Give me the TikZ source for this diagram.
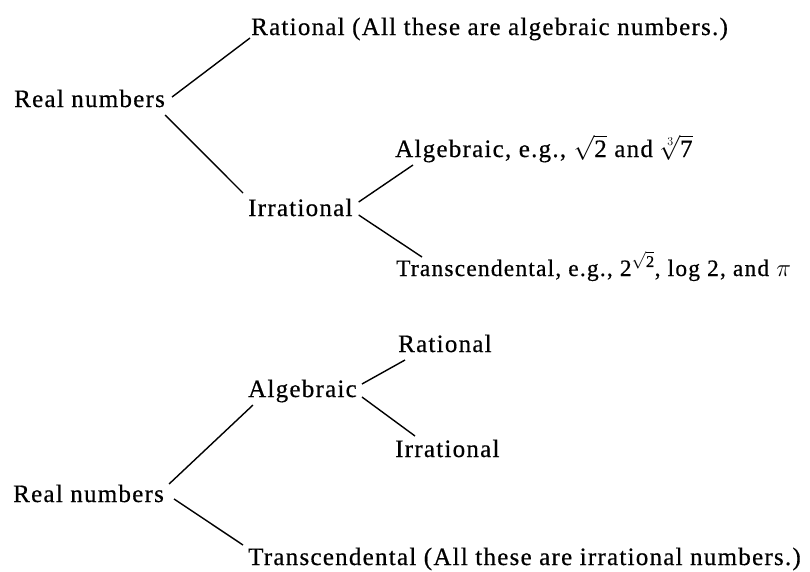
\documentclass[tikz,border=0pt]{standalone}
\usepackage{fontspec}
\setmainfont[LetterSpace=5, FakeBold=0.5]{Liberation Serif}
\begin{document}
\begin{tikzpicture}[x=1pt, y=-1pt, lbl/.style={anchor=base west, inner sep=3pt, font=\fontsize{25}{30}\selectfont}, br/.style={line width=1.4pt}]
    \useasboundingbox (0,0) rectangle (810,571);
    % first tree
    \node[lbl] (realA) at (11,107) {Real numbers};
    \node[lbl] (ratA) at (248,35) {Rational (All these are algebraic numbers.)};
    \node[lbl] (irrA) at (245,216) {Irrational};
    \node[lbl] (algA) at (392,157) {Algebraic, e.g., $\sqrt{\mathrm{2}}$ and $\sqrt[3]{\mathrm{7}}$};
    \node[lbl, font=\fontsize{23.5}{30}\selectfont] (traA) at (393,276) {Transcendental, e.g., $\mathrm{2}^{\sqrt{\mathrm{2}}}$, log 2, and $\pi$};
    \draw[br] ([shift={(4pt,10pt)}]realA.base east) -- ([shift={(2pt,-3pt)}]ratA.base west);
    \draw[br] ([shift={(-3pt,-8pt)}]realA.base east) -- ([shift={(-2pt,23pt)}]irrA.base west);
    \draw[br] ([shift={(3pt,14pt)}]irrA.base east) -- ([shift={(21pt,-8pt)}]algA.base west);
    \draw[br] ([shift={(3pt,1pt)}]irrA.base east) -- ([shift={(29pt,19pt)}]traA.base west);
    % second tree
    \node[lbl] (realB) at (10,502) {Real numbers};
    \node[lbl] (algB) at (245,397) {Algebraic};
    \node[lbl] (ratB) at (395,352) {Rational};
    \node[lbl] (irrB) at (392,457) {Irrational};
    \node[lbl] (traB) at (245,565) {Transcendental (All these are irrational numbers.)};
    \draw[br] ([shift={(2pt,18pt)}]realB.base east) -- ([shift={(8pt,-8pt)}]algB.base west);
    \draw[br] ([shift={(7pt,3pt)}]realB.base east) -- ([shift={(-2pt,20pt)}]traB.base west);
    \draw[br] ([shift={(2pt,13pt)}]algB.base east) -- ([shift={(10pt,-8pt)}]ratB.base west);
    \draw[br] ([shift={(2pt,0pt)}]algB.base east) -- ([shift={(23pt,21pt)}]irrB.base west);
\end{tikzpicture}
\end{document}
